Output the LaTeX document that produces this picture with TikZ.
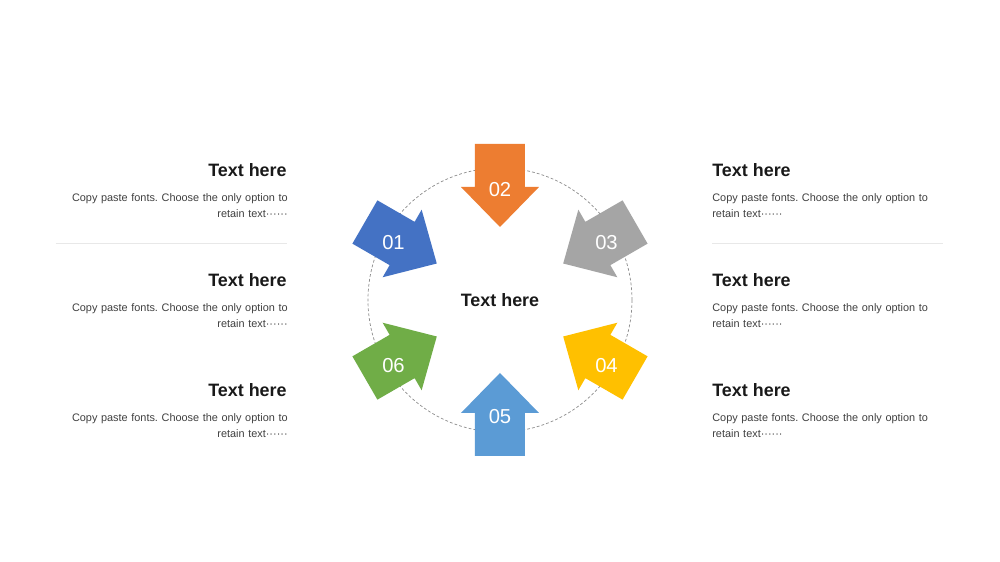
\documentclass[tikz,border=0pt]{standalone}
\usepackage{fontspec}
\setmainfont{Liberation Sans}
\frenchspacing
\definecolor{offblue}{HTML}{4472C4}
\definecolor{offorange}{HTML}{ED7D31}
\definecolor{offgray}{HTML}{A5A5A5}
\definecolor{offgold}{HTML}{FFC000}
\definecolor{offsky}{HTML}{5B9BD5}
\definecolor{offgreen}{HTML}{70AD47}
\definecolor{bodygray}{HTML}{404040}
\definecolor{rulegray}{HTML}{E8E8E8}
\usetikzlibrary{positioning}

\begin{document}
\begin{tikzpicture}[
    inarrow/.pic={
        \fill (3.12,0.5) -- (2.26,0.5) -- (2.26,0.78) -- (1.46,0) -- (2.26,-0.78) -- (2.26,-0.5) -- (3.12,-0.5) -- cycle;
        \coordinate (-mid) at (2.29,0);},
    numtext/.style={text=white, inner sep=0pt, font=\fontsize{11.5}{13}\selectfont},
    headtext/.style={text=black!90, inner sep=0pt, font=\fontsize{10.2}{12}\selectfont\bfseries},
    bodytext/.style={text=bodygray, inner sep=0pt, text width=4.6cm, font=\fontsize{6.2}{9.1}\selectfont}
  ]
    \fill[white] (-10,-5.24) rectangle (10,6);
    \useasboundingbox (-10,-5.24) rectangle (10,6);

    % Centre
    \node[headtext] (hub) at (0,0) {Text here};
    \draw[black!45, line width=0.4pt, dash pattern=on 1.6pt off 1.2pt] (hub.center) circle (2.64cm);

    % Arrows pointing inwards
    \pic[fill=offblue, rotate=150] (a1) at (hub.center) {inarrow};
    \pic[fill=offorange, rotate=90] (a2) at (hub.center) {inarrow};
    \pic[fill=offgray, rotate=30] (a3) at (hub.center) {inarrow};
    \pic[fill=offgold, rotate=-30] (a4) at (hub.center) {inarrow};
    \pic[fill=offsky, rotate=-90] (a5) at (hub.center) {inarrow};
    \pic[fill=offgreen, rotate=-150] (a6) at (hub.center) {inarrow};

    % Numbers
    \node[numtext] (n1) at (-2.13,1.15) {01};
    \node[numtext] (n2) at (0,2.2) {02};
    \node[numtext] (n3) at (2.13,1.15) {03};
    \node[numtext] (n4) at (2.13,-1.31) {04};
    \node[numtext] (n5) at (0,-2.34) {05};
    \node[numtext] (n6) at (-2.13,-1.31) {06};

    % Left column
    \node[headtext, anchor=east] (t1) at (-4.26,2.6) {Text here};
    \node[bodytext, align=right, anchor=north east] (b1) at (-4.24,2.14) {Copy paste fonts. Choose the only option to\\retain text······};
    \draw[rulegray, line width=0.5pt] (-8.88,1.14) -- (-4.26,1.14);

    \node[headtext, anchor=east] (t2) at (-4.26,0.4) {Text here};
    \node[bodytext, align=right, anchor=north east] (b2) at (-4.24,-0.06) {Copy paste fonts. Choose the only option to\\retain text······};

    \node[headtext, anchor=east] (t3) at (-4.26,-1.8) {Text here};
    \node[bodytext, align=right, anchor=north east] (b3) at (-4.24,-2.26) {Copy paste fonts. Choose the only option to\\retain text······};

    % Right column
    \node[headtext, anchor=west] (t4) at (4.24,2.6) {Text here};
    \node[bodytext, align=left, anchor=north west] (b4) at (4.24,2.14) {Copy paste fonts. Choose the only option to\\retain text······};
    \draw[rulegray, line width=0.5pt] (4.24,1.14) -- (8.86,1.14);

    \node[headtext, anchor=west] (t5) at (4.24,0.4) {Text here};
    \node[bodytext, align=left, anchor=north west] (b5) at (4.24,-0.06) {Copy paste fonts. Choose the only option to\\retain text······};

    \node[headtext, anchor=west] (t6) at (4.24,-1.8) {Text here};
    \node[bodytext, align=left, anchor=north west] (b6) at (4.24,-2.26) {Copy paste fonts. Choose the only option to\\retain text······};
\end{tikzpicture}
\end{document}
